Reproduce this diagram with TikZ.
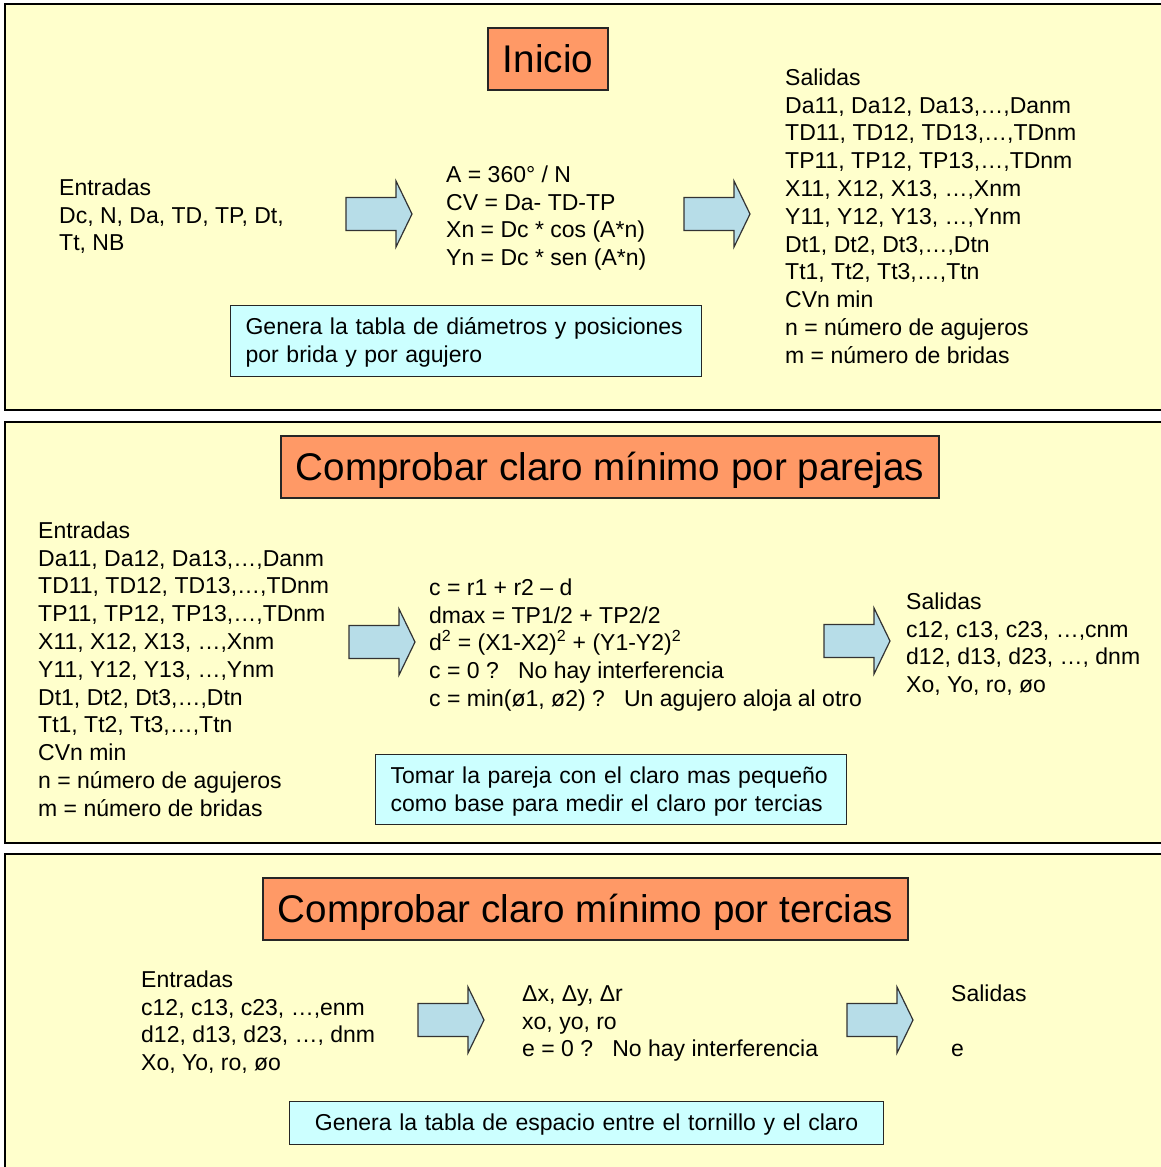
\documentclass[tikz,border=0pt]{standalone}
\usepackage{fontspec}
\setmainfont{Liberation Sans}
\definecolor{panelbg}{HTML}{FFFFCC}
\definecolor{titlebg}{HTML}{FF9966}
\definecolor{notebg}{HTML}{CCFFFF}
\definecolor{arrowbg}{HTML}{B7DDE8}
\newcommand\ls{\rule[-6.3pt]{0pt}{27.8pt}}
\begin{document}
\begin{tikzpicture}[x=1pt,y=-1pt,
 panel/.style={draw=black,line width=1.5pt,fill=panelbg},
 titlebox/.style={draw=black!85,line width=1.2pt,fill=titlebg,inner sep=0pt,font=\fontsize{38.6}{46}\selectfont,text height=27pt,text depth=0pt,minimum height=62pt},
 notebox/.style={draw=black!85,line width=1.2pt,fill=notebg,inner xsep=15pt,inner ysep=0pt,anchor=north west,font=\fontsize{23}{27.8}\selectfont},
 txt/.style={anchor=north west,inner sep=0pt,align=left,font=\fontsize{23}{27.8}\selectfont},
 blockarrow/.style={draw=black!80,line width=1.2pt,fill=arrowbg,line join=miter},
 barrow/.pic={\path[blockarrow] (0,-16.5)--(50,-16.5)--(50,-33)--(66,0)--(50,33)--(50,16.5)--(0,16.5)--cycle;}
]
\useasboundingbox (0,0) rectangle (1161,1167);
\clip (0,0) rectangle (1161,1167);
\fill[white] (0,0) rectangle (1161,1167);
% panels
\path[panel] (5,4) rectangle (1190,410);
\path[panel] (5,422) rectangle (1190,843);
\path[panel] (5,854) rectangle (1190,1190);

% ---------- panel 1
\node[titlebox,minimum width=120pt] (t1) at (548,59) {Inicio};
\node[txt] (e1) at (59,173.5) {\ls Entradas\\\ls Dc, N, Da, TD, TP, Dt,\\\ls Tt, NB};
\pic (a1) at (346,214) {barrow};
\node[txt] (f1) at (446,160.5) {\ls A = 360° / N\\\ls CV = Da- TD-TP\\\ls Xn = Dc * cos (A*n)\\\ls Yn = Dc * sen (A*n)};
\pic (a2) at (684,214) {barrow};
\node[txt] (s1) at (785,63.5) {\ls Salidas\\\ls Da11, Da12, Da13,…,Danm\\\ls TD11, TD12, TD13,…,TDnm\\\ls TP11, TP12, TP13,…,TDnm\\\ls X11, X12, X13, …,Xnm\\\ls Y11, Y12, Y13, …,Ynm\\\ls Dt1, Dt2, Dt3,…,Dtn\\\ls Tt1, Tt2, Tt3,…,Ttn\\\ls CVn min\\\ls n = número de agujeros\\\ls m = número de bridas};
\node[notebox,align=left,text width=441pt,minimum width=471pt,minimum height=71pt] (n1) at (230,305) {\ls Genera la tabla de diámetros y posiciones\\\ls por brida y por agujero};

% ---------- panel 2
\node[titlebox,minimum width=658pt] (t2) at (610,467) {Comprobar claro mínimo por parejas};
\node[txt] (e2) at (38,516.5) {\ls Entradas\\\ls Da11, Da12, Da13,…,Danm\\\ls TD11, TD12, TD13,…,TDnm\\\ls TP11, TP12, TP13,…,TDnm\\\ls X11, X12, X13, …,Xnm\\\ls Y11, Y12, Y13, …,Ynm\\\ls Dt1, Dt2, Dt3,…,Dtn\\\ls Tt1, Tt2, Tt3,…,Ttn\\\ls CVn min\\\ls n = número de agujeros\\\ls m = número de bridas};
\pic (a3) at (349,642) {barrow};
\node[txt] (f2) at (429,573.5) {\ls c = r1 + r2 – d\\\ls dmax = TP1/2 + TP2/2\\\ls d\textsuperscript{2} = (X1-X2)\textsuperscript{2} + (Y1-Y2)\textsuperscript{2}\\\ls c = 0 ?\ \ \ No hay interferencia\\\ls c = min(ø1, ø2) ?\ \ \ Un agujero aloja al otro};
\pic (a4) at (824,641) {barrow};
\node[txt] (s2) at (906,587.5) {\ls Salidas\\\ls c12, c13, c23, …,cnm\\\ls d12, d13, d23, …, dnm\\\ls Xo, Yo, ro, øo};
\node[notebox,align=left,text width=441pt,minimum width=471pt,minimum height=70pt] (n2) at (375,754) {\ls Tomar la pareja con el claro mas pequeño\\\ls como base para medir el claro por tercias};

% ---------- panel 3
\node[titlebox,minimum width=645pt] (t3) at (585.5,909) {Comprobar claro mínimo por tercias};
\node[txt] (e3) at (141,965.5) {\ls Entradas\\\ls c12, c13, c23, …,enm\\\ls d12, d13, d23, …, dnm\\\ls Xo, Yo, ro, øo};
\pic (a5) at (418,1020) {barrow};
\node[txt] (f3) at (522,979.5) {\ls Δx, Δy, Δr\\\ls xo, yo, ro\\\ls e = 0 ?\ \ \ No hay interferencia};
\pic (a6) at (847,1020) {barrow};
\node[txt] (s3) at (951,979.5) {\ls Salidas\\\ls\\\ls e};
\node[notebox,align=center,text width=564pt,minimum width=594pt,minimum height=43pt] (n3) at (289,1101) {\ls Genera la tabla de espacio entre el tornillo y el claro};
\end{tikzpicture}
\end{document}
